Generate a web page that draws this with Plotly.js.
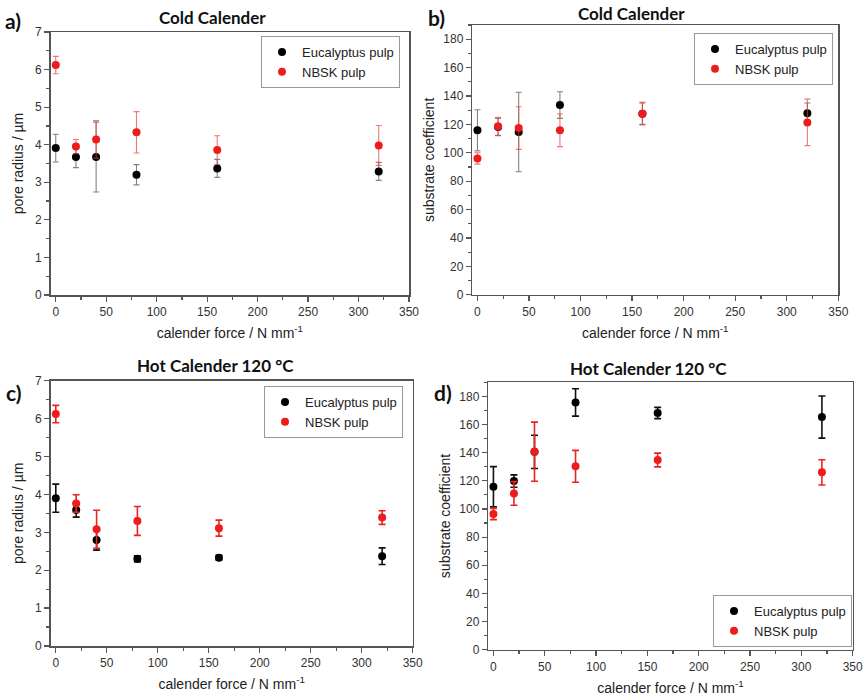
<!DOCTYPE html>
<html>
<head>
<meta charset="utf-8">
<script src="https://cdn.plot.ly/plotly-3.0.1.min.js"></script>
<style>html,body{margin:0;padding:0;background:#fff;}#chart{width:866px;height:696px;}</style>
</head>
<body>
<div id="chart"></div>
<script>
// calender force (N mm^-1)
const force = [0, 20, 40, 80, 160, 320];

// a) Cold calender – pore radius (µm)
const aEuc = [3.91, 3.67, 3.67, 3.20, 3.37, 3.29];
const aEucErr = [0.37, 0.28, 0.93, 0.27, 0.24, 0.24];
const aNbsk = [6.12, 3.95, 4.14, 4.33, 3.86, 3.98];
const aNbskErr = [0.23, 0.19, 0.50, 0.55, 0.38, 0.53];

// b) Cold calender – substrate coefficient
const bEuc = [115.8, 118.1, 114.6, 133.6, 127.5, 127.8];
const bEucErr = [14.5, 6.0, 28.0, 9.4, 7.5, 7.3];
const bNbsk = [96.0, 118.6, 117.4, 115.8, 127.5, 121.4];
const bNbskErr = [4.0, 6.3, 15.0, 11.5, 8.0, 16.4];

// c) Hot calender 120 °C – pore radius (µm)
const cEuc = [3.90, 3.59, 2.80, 2.30, 2.33, 2.37];
const cEucErr = [0.37, 0.19, 0.27, 0.08, 0.06, 0.22];
const cNbsk = [6.12, 3.76, 3.08, 3.30, 3.11, 3.39];
const cNbskErr = [0.23, 0.23, 0.50, 0.38, 0.21, 0.18];

// d) Hot calender 120 °C – substrate coefficient
const dEuc = [115.8, 119.8, 140.6, 175.7, 168.2, 165.3];
const dEucErr = [14.3, 4.4, 11.8, 9.7, 4.0, 15.0];
const dNbsk = [96.4, 111.0, 140.7, 130.3, 134.8, 126.0];
const dNbskErr = [4.0, 8.4, 21.0, 11.3, 4.9, 9.0];

const seriesNames = ['Eucalyptus pulp', 'NBSK pulp'];
const panelTitles = ['Cold Calender', 'Cold Calender', 'Hot Calender 120 °C', 'Hot Calender 120 °C'];
const panelLabels = ['a)', 'b)', 'c)', 'd)'];
const xTitle = 'calender force / N mm<sup>-1</sup>';
const yTitles = ['pore radius / µm', 'substrate coefficient', 'pore radius / µm', 'substrate coefficient'];

const panels = [
  {euc: aEuc, eucErr: aEucErr, nb: aNbsk, nbErr: aNbskErr, hot: false},
  {euc: bEuc, eucErr: bEucErr, nb: bNbsk, nbErr: bNbskErr, hot: false},
  {euc: cEuc, eucErr: cEucErr, nb: cNbsk, nbErr: cNbskErr, hot: true},
  {euc: dEuc, eucErr: dEucErr, nb: dNbsk, nbErr: dNbskErr, hot: true}
];

const traces = [];
panels.forEach((p, i) => {
  const sfx = i === 0 ? '' : String(i + 1);
  const leg = i === 0 ? 'legend' : 'legend' + (i + 1);
  const cols = [
    {m: '#000000', e: p.hot ? '#111111' : 'rgba(90,90,90,0.75)'},
    {m: '#ee1c1c', e: p.hot ? '#ee2222' : 'rgba(235,60,60,0.7)'}
  ];
  [[p.euc, p.eucErr], [p.nb, p.nbErr]].forEach((s, k) => {
    traces.push({
      type: 'scatter', mode: 'markers',
      x: force, y: s[0],
      name: seriesNames[k],
      legend: leg,
      xaxis: 'x' + sfx, yaxis: 'y' + sfx,
      marker: {color: cols[k].m, size: 8},
      error_y: {type: 'data', array: s[1], visible: true, color: cols[k].e,
                thickness: p.hot ? 1.6 : 1.1, width: p.hot ? 3.5 : 3}
    });
  });
});

const W = 866, H = 696;
const boxes = [
  {l: 50.7, r: 409.0, t: 32.0, b: 295.0, yr: [0, 7], dt: 1, mdt: 0.5},
  {l: 472.3, r: 838.3, t: 25.0, b: 294.7, yr: [0, 190], dt: 20, mdt: 10},
  {l: 50.7, r: 412.7, t: 380.7, b: 646.0, yr: [0, 7], dt: 1, mdt: 0.5},
  {l: 488.3, r: 852.7, t: 382.3, b: 649.7, yr: [0, 190], dt: 20, mdt: 10}
];

const tickFont = {family: 'Liberation Sans, Arial, sans-serif', size: 12, color: '#333'};
const titleFont = {family: 'Liberation Sans, Arial, sans-serif', size: 14, color: '#222'};
const axCommon = {
  showline: true, mirror: true, linecolor: '#555', linewidth: 1.5,
  ticks: 'outside', ticklen: 5, tickwidth: 1.2, tickcolor: '#555',
  showgrid: false, zeroline: false, tickfont: tickFont,
  minor: {ticks: 'outside', ticklen: 3, tickcolor: '#555', showgrid: false}
};

const layout = {
  width: W, height: H,
  margin: {l: 0, r: 0, t: 0, b: 0},
  paper_bgcolor: '#fff', plot_bgcolor: '#fff',
  showlegend: true,
  annotations: [],
  font: {family: 'Liberation Sans, Arial, sans-serif'}
};

boxes.forEach((b, i) => {
  const sfx = i === 0 ? '' : String(i + 1);
  layout['xaxis' + sfx] = Object.assign({}, axCommon, {
    domain: [b.l / W, b.r / W], range: [-5, 350], dtick: 50, tick0: 0,
    anchor: 'y' + sfx,
    minor: Object.assign({}, axCommon.minor, {dtick: 25}),
    title: {text: xTitle, font: titleFont, standoff: 10}
  });
  layout['yaxis' + sfx] = Object.assign({}, axCommon, {
    domain: [1 - b.b / H, 1 - b.t / H], range: b.yr, dtick: b.dt, tick0: 0,
    anchor: 'x' + sfx,
    minor: Object.assign({}, axCommon.minor, {dtick: b.mdt}),
    title: {text: yTitles[i], font: titleFont, standoff: i % 2 === 0 ? 8 : 5}
  });
});

const legCommon = {
  bgcolor: '#fff', bordercolor: '#999', borderwidth: 1,
  font: {family: 'Liberation Sans, Arial, sans-serif', size: 13, color: '#222'},
  xanchor: 'right', tracegroupgap: 0, itemwidth: 30
};
layout.legend = Object.assign({}, legCommon, {x: 400 / W, y: 1 - 36 / H, yanchor: 'top'});
layout.legend2 = Object.assign({}, legCommon, {x: 833 / W, y: 1 - 33 / H, yanchor: 'top'});
layout.legend3 = Object.assign({}, legCommon, {x: 403 / W, y: 1 - 386 / H, yanchor: 'top'});
layout.legend4 = Object.assign({}, legCommon, {x: 852 / W, y: 1 - 647 / H, yanchor: 'bottom'});

const titlePos = [[212, 17], [631, 14], [215, 365], [648, 368]];
const labelPos = [[13, 20], [436, 17], [14, 392], [443, 392]];
const boldFont = {family: 'Lato, Open Sans, sans-serif', size: 17, color: '#111'};
titlePos.forEach((p, i) => {
  layout.annotations.push({
    xref: 'paper', yref: 'paper', x: p[0] / W, y: 1 - p[1] / H,
    xanchor: 'center', yanchor: 'middle', showarrow: false,
    text: '<b>' + panelTitles[i] + '</b>', font: boldFont
  });
});
labelPos.forEach((p, i) => {
  layout.annotations.push({
    xref: 'paper', yref: 'paper', x: p[0] / W, y: 1 - p[1] / H,
    xanchor: 'center', yanchor: 'middle', showarrow: false,
    text: '<b>' + panelLabels[i] + '</b>',
    font: {family: 'Lato, Open Sans, sans-serif', size: 21, color: '#111'}
  });
});

Plotly.newPlot('chart', traces, layout, {displayModeBar: false, staticPlot: true});
</script>
</body>
</html>
